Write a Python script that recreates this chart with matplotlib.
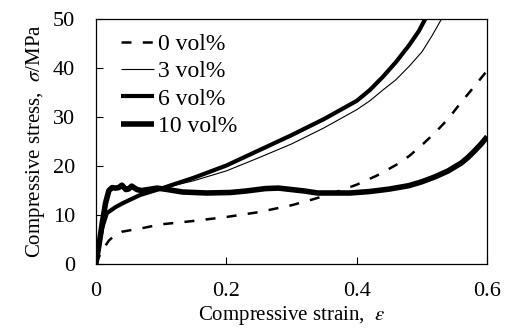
import matplotlib
matplotlib.use("Agg")
import matplotlib.pyplot as plt

plt.rcParams['font.family'] = ['Liberation Serif', 'DejaVu Serif']
plt.rcParams['mathtext.fontset'] = 'stix'

# --- data ---
strain_0 = [0, 0.005, 0.012, 0.02, 0.03, 0.04, 0.07, 0.1, 0.15, 0.2, 0.25, 0.3,
            0.33, 0.36, 0.4, 0.43, 0.46, 0.48, 0.5, 0.52, 0.54, 0.56, 0.58, 0.6]
stress_0 = [0, 1.5, 3.2, 4.8, 6.0, 6.6, 7.3, 8.1, 8.8, 9.6, 10.6, 12.0,
            13.1, 14.3, 16.2, 18.0, 20.2, 22.0, 24.3, 26.8, 29.6, 33.0, 36.2, 39.5]

strain_3 = [0, 0.005, 0.01, 0.018, 0.03, 0.05, 0.07, 0.1, 0.15, 0.2, 0.25, 0.3,
            0.35, 0.4, 0.42, 0.44, 0.46, 0.48, 0.5, 0.515, 0.53, 0.54]
stress_3 = [0, 4, 7.5, 10.6, 11.8, 13.2, 14.3, 15.4, 17.0, 19.0, 21.7, 24.5,
            27.8, 31.5, 33.3, 35.5, 37.6, 40.3, 43.3, 46.5, 50, 52]

strain_6 = [0, 0.005, 0.01, 0.017, 0.03, 0.041, 0.068, 0.1, 0.15, 0.2, 0.25, 0.3,
            0.35, 0.4, 0.42, 0.44, 0.46, 0.48, 0.495, 0.505, 0.515]
stress_6 = [0, 4, 7.5, 10.4, 11.6, 12.4, 14.1, 15.4, 17.6, 20.1, 23.2, 26.3,
            29.6, 33.3, 35.5, 38.2, 41.2, 44.6, 47.5, 50, 52]

strain_10 = [0, 0.005, 0.01, 0.015, 0.02, 0.025, 0.03, 0.035, 0.04, 0.046, 0.05,
             0.055, 0.063, 0.07, 0.08, 0.094, 0.11, 0.133, 0.17, 0.206, 0.23,
             0.26, 0.28, 0.3, 0.32, 0.34, 0.36, 0.39, 0.42, 0.45, 0.48, 0.5,
             0.52, 0.54, 0.56, 0.57, 0.58, 0.59, 0.6]
stress_10 = [0, 4, 8.5, 12.5, 15.0, 15.6, 15.5, 15.6, 16.1, 15.2, 15.3,
             15.9, 15.2, 15.0, 15.2, 15.5, 15.2, 14.7, 14.5, 14.6, 14.9,
             15.4, 15.5, 15.2, 14.9, 14.5, 14.5, 14.5, 14.8, 15.3, 16.0, 16.8,
             17.8, 19.0, 20.6, 21.7, 23.0, 24.4, 26.0]

labels = ['0 vol%', '3 vol%', '6 vol%', '10 vol%']

fig = plt.figure(figsize=(5.07, 3.33), dpi=100)
ax = fig.add_axes([0.189, 0.207, 0.772, 0.736])

style = dict(color='black', solid_joinstyle='round', solid_capstyle='butt')
ax.plot(strain_0, stress_0, lw=1.8, dashes=(4, 4.5), label=labels[0], **style)
ax.plot(strain_3, stress_3, lw=0.8, label=labels[1], **style)
ax.plot(strain_6, stress_6, lw=3.0, label=labels[2], **style)
ax.plot(strain_10, stress_10, lw=4.0, label=labels[3], **style)

ax.set_xlim(0, 0.6)
ax.set_ylim(0, 50)
ax.set_xticks([0, 0.2, 0.4, 0.6])
ax.set_xticklabels(['0', '0.2', '0.4', '0.6'])
ax.set_yticks([0, 10, 20, 30, 40, 50])
ax.tick_params(direction='in', length=5, width=0.8, labelsize=16, pad=15)
ax.tick_params(axis='x', pad=13)
for s in ax.spines.values():
    s.set_linewidth(0.9)

ax.set_xlabel('Compressive strain,  $\\varepsilon$', fontsize=15, labelpad=2)
ax.set_ylabel('Compressive stress,  $\\sigma$/MPa', fontsize=15, labelpad=4)

ax.legend(loc='upper left', frameon=False, fontsize=17, handlelength=1.4,
          handletextpad=0.15, labelspacing=0.25, borderaxespad=0.0,
          bbox_to_anchor=(0.04, 0.98))

fig.savefig('out.png', dpi=100)
